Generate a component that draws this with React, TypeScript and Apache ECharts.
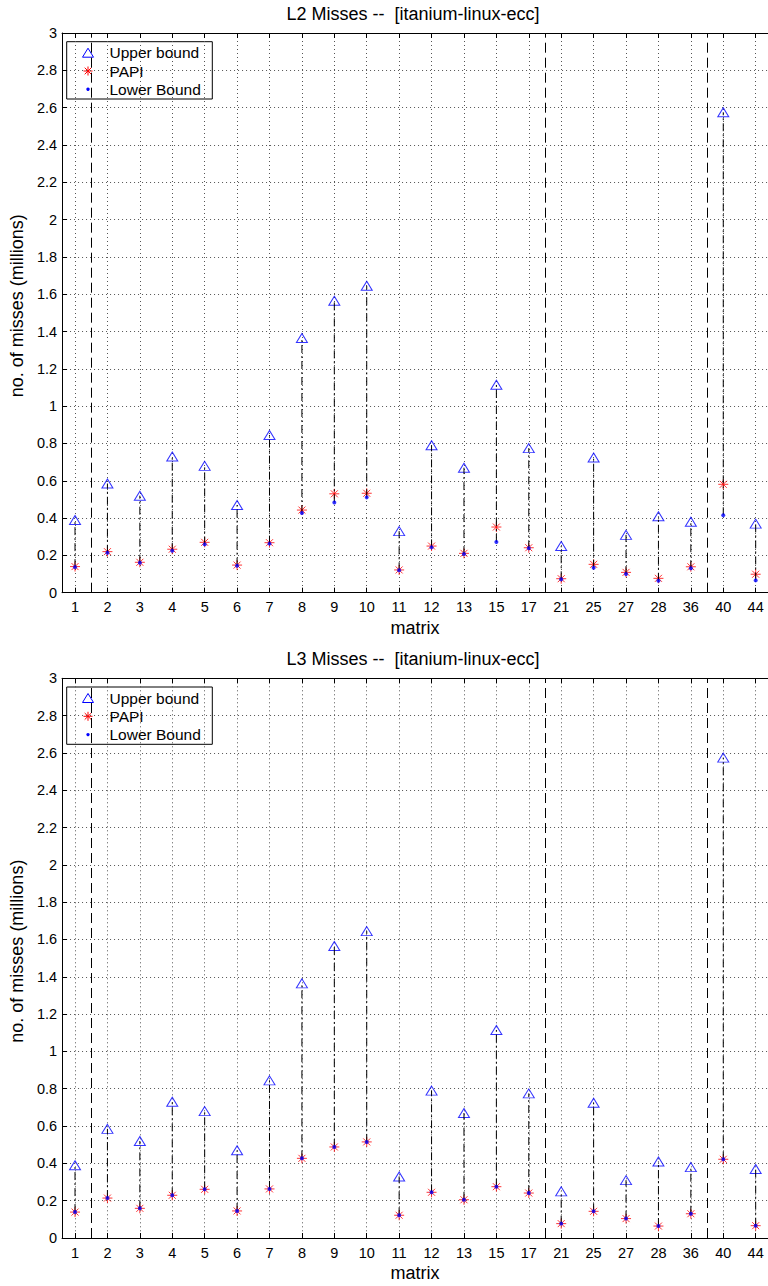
import React, { useEffect, useRef } from 'react';
import * as echarts from 'echarts';

// ---------- data ----------
const matrixLabels = ['1', '2', '3', '4', '5', '6', '7', '8', '9', '10', '11', '12', '13', '15', '17', '21', '25', '27', '28', '36', '40', '44'];

const l2Upper = [0.39, 0.585, 0.52, 0.73, 0.68, 0.47, 0.845, 1.365, 1.565, 1.645, 0.33, 0.79, 0.67, 1.115, 0.775, 0.25, 0.725, 0.31, 0.41, 0.38, 2.575, 0.37];
const l2Papi = [0.14, 0.22, 0.163, 0.233, 0.27, 0.148, 0.268, 0.443, 0.53, 0.533, 0.122, 0.25, 0.211, 0.352, 0.241, 0.075, 0.152, 0.109, 0.077, 0.139, 0.581, 0.099];
const l2Lower = [0.137, 0.214, 0.161, 0.225, 0.259, 0.145, 0.263, 0.427, 0.484, 0.511, 0.12, 0.243, 0.207, 0.272, 0.238, 0.072, 0.134, 0.1, 0.064, 0.131, 0.415, 0.066];

const l3Upper = [0.39, 0.585, 0.52, 0.73, 0.68, 0.47, 0.845, 1.365, 1.565, 1.645, 0.33, 0.79, 0.67, 1.115, 0.775, 0.25, 0.725, 0.31, 0.41, 0.38, 2.575, 0.37];
const l3Papi = [0.139, 0.214, 0.159, 0.229, 0.261, 0.145, 0.263, 0.427, 0.488, 0.515, 0.122, 0.245, 0.205, 0.275, 0.241, 0.077, 0.143, 0.104, 0.064, 0.13, 0.422, 0.066];
const l3Lower = [0.139, 0.214, 0.159, 0.229, 0.261, 0.145, 0.263, 0.427, 0.488, 0.515, 0.122, 0.245, 0.205, 0.275, 0.241, 0.077, 0.143, 0.104, 0.064, 0.13, 0.422, 0.066];

const separatorPositions = [1.5, 15.5, 20.5];

const panelTitles = ['L2 Misses --  [itanium-linux-ecc]', 'L3 Misses --  [itanium-linux-ecc]'];
const seriesNames = ['Upper bound', 'PAPI', 'Lower Bound'];
const xAxisName = 'matrix';
const yAxisName = 'no. of misses (millions)';

// ---------- style ----------
const FONT = '"Liberation Sans", Arial, Helvetica, sans-serif';
const BLUE = '#0000ff';
const RED = '#ff0000';
const GRID_LEFT = 58;
const GRID_WIDTH = 710;
const GRID_HEIGHT = 559.7;
const GRID_TOPS = [33, 678.3];
const PANEL_SHIFT = 645.3;

const ASTERISK = 'path://M0,5L10,5M5,0L5,10M1.5,1.5L8.5,8.5M1.5,8.5L8.5,1.5';

const positions = matrixLabels.map((_, i) => i + 1);

function legendBox(offsetY: number) {
  const boxX = 66.7;
  const boxY = 41.7 + offsetY;
  const iconX = 88;
  const textX = 109.5;
  const rows = [52.7, 71, 89.3].map((r) => r + offsetY);
  const children: any[] = [
    {
      type: 'rect',
      shape: { x: boxX, y: boxY, width: 145.6, height: 57.3 },
      style: { fill: '#fff', stroke: '#000', lineWidth: 1 },
    },
    {
      type: 'polygon',
      shape: { points: [[iconX, rows[0] - 4.5], [iconX + 5.5, rows[0] + 4.5], [iconX - 5.5, rows[0] + 4.5]] },
      style: { fill: 'none', stroke: BLUE, lineWidth: 1 },
    },
    ...[
      [-4.5, 0, 4.5, 0],
      [0, -4.5, 0, 4.5],
      [-3.3, -3.3, 3.3, 3.3],
      [-3.3, 3.3, 3.3, -3.3],
    ].map(([x1, y1, x2, y2]) => ({
      type: 'line',
      shape: { x1: iconX + x1, y1: rows[1] + y1, x2: iconX + x2, y2: rows[1] + y2 },
      style: { stroke: RED, lineWidth: 1 },
    })),
    {
      type: 'circle',
      shape: { cx: iconX, cy: rows[2], r: 1.7 },
      style: { fill: BLUE },
    },
    ...seriesNames.map((name, k) => ({
      type: 'text',
      x: textX,
      y: rows[k],
      style: {
        text: name,
        fontFamily: FONT,
        fontSize: 15.5,
        fill: '#000',
        align: 'left',
        verticalAlign: 'middle',
      },
    })),
  ];
  return { type: 'group', z: 100, silent: true, children };
}

function buildOption() {
  const panels = [
    { upper: l2Upper, papi: l2Papi, lower: l2Lower },
    { upper: l3Upper, papi: l3Papi, lower: l3Lower },
  ];

  const grid = GRID_TOPS.map((top) => ({ left: GRID_LEFT, top, width: GRID_WIDTH, height: GRID_HEIGHT }));

  const xAxis: any[] = [];
  const yAxis: any[] = [];
  const series: any[] = [];
  const title: any[] = [];
  const graphic: any[] = [];

  panels.forEach((p, i) => {
    xAxis.push({
      type: 'value',
      gridIndex: i,
      position: 'bottom',
      min: 0.6,
      max: 22.38,
      name: xAxisName,
      nameLocation: 'middle',
      nameGap: 26,
      nameTextStyle: { fontFamily: FONT, fontSize: 18, color: '#000' },
      axisLine: { show: true, onZero: false, lineStyle: { color: '#000', width: 1 } },
      axisTick: { show: true, inside: true, length: 5, customValues: positions, lineStyle: { color: '#000' } },
      axisLabel: {
        customValues: positions,
        formatter: (v: number) => matrixLabels[Math.round(v) - 1] ?? '',
        fontFamily: FONT,
        fontSize: 14.5,
        color: '#000',
        margin: 7,
      },
      splitLine: { show: true, lineStyle: { color: '#555', type: [1, 3], width: 1 } },
    });
    xAxis.push({
      type: 'value',
      gridIndex: i,
      position: 'top',
      min: 0.6,
      max: 22.38,
      axisLine: { show: true, onZero: false, lineStyle: { color: '#000', width: 1 } },
      axisTick: { show: true, inside: true, length: 5, customValues: positions, lineStyle: { color: '#000' } },
      axisLabel: { show: false },
      splitLine: { show: false },
    });
    yAxis.push({
      type: 'value',
      gridIndex: i,
      min: 0,
      max: 3,
      interval: 0.2,
      name: yAxisName,
      nameLocation: 'middle',
      nameGap: 29,
      nameTextStyle: { fontFamily: FONT, fontSize: 18, color: '#000', padding: [0, 0, 0, 14] },
      axisLine: { show: true, onZero: false, lineStyle: { color: '#000', width: 1 } },
      axisTick: { show: true, inside: true, length: 5, lineStyle: { color: '#000' } },
      axisLabel: { fontFamily: FONT, fontSize: 14.5, color: '#000', margin: 5 },
      splitLine: { show: true, lineStyle: { color: '#555', type: [1, 3], width: 1 } },
    });

    title.push({
      text: panelTitles[i],
      left: GRID_LEFT + GRID_WIDTH / 2,
      top: 5 + i * PANEL_SHIFT,
      textAlign: 'center',
      padding: 0,
      textStyle: { fontFamily: FONT, fontSize: 18, fontWeight: 'normal', color: '#000' },
    });

    graphic.push(legendBox(i * PANEL_SHIFT));

    const xi = i * 2;
    series.push({
      type: 'scatter',
      name: seriesNames[0],
      xAxisIndex: xi,
      yAxisIndex: i,
      data: positions.map((x, j) => [x, p.upper[j]]),
      symbol: 'triangle',
      symbolSize: [11, 9],
      itemStyle: { color: 'none', borderColor: BLUE, borderWidth: 1 },
      emphasis: { disabled: true },
      z: 2,
      markLine: {
        silent: true,
        symbol: 'none',
        label: { show: false },
        lineStyle: { color: '#000', type: [10, 5], width: 1 },
        emphasis: { disabled: true },
        data: separatorPositions.map((v) => ({ xAxis: v })),
      },
    });
    series.push({
      type: 'scatter',
      name: seriesNames[1],
      xAxisIndex: xi,
      yAxisIndex: i,
      data: positions.map((x, j) => [x, p.papi[j]]),
      symbol: ASTERISK,
      symbolSize: 10,
      itemStyle: { color: 'none', borderColor: RED, borderWidth: 1 },
      emphasis: { disabled: true },
      z: 3,
    });
    series.push({
      type: 'custom',
      name: 'stems',
      xAxisIndex: xi,
      yAxisIndex: i,
      data: positions.map((x, j) => [x, p.lower[j], p.upper[j]]),
      z: 4,
      silent: true,
      renderItem: (_params: any, api: any) => {
        const a = api.coord([api.value(0), api.value(1)]);
        const b = api.coord([api.value(0), api.value(2)]);
        return {
          type: 'line',
          shape: { x1: a[0], y1: a[1], x2: b[0], y2: b[1] },
          style: { stroke: '#000', lineWidth: 1, lineDash: [8, 3, 2, 3] },
        };
      },
    });
    series.push({
      type: 'scatter',
      name: seriesNames[2],
      xAxisIndex: xi,
      yAxisIndex: i,
      data: positions.map((x, j) => [x, p.lower[j]]),
      symbol: 'circle',
      symbolSize: 4,
      itemStyle: { color: BLUE },
      emphasis: { disabled: true },
      z: 5,
    });
  });

  return { animation: false, backgroundColor: '#fff', title, grid, xAxis, yAxis, series, graphic };
}

export default function App() {
  const ref = useRef<HTMLDivElement>(null);
  useEffect(() => {
    document.body.style.margin = '0';
    if (!ref.current) return;
    const chart = echarts.init(ref.current, null, { renderer: 'svg' });
    chart.setOption(buildOption() as any);
    return () => chart.dispose();
  }, []);
  return <div ref={ref} style={{ position: 'absolute', left: 0, top: 0, width: 768, height: 1286 }} />;
}
